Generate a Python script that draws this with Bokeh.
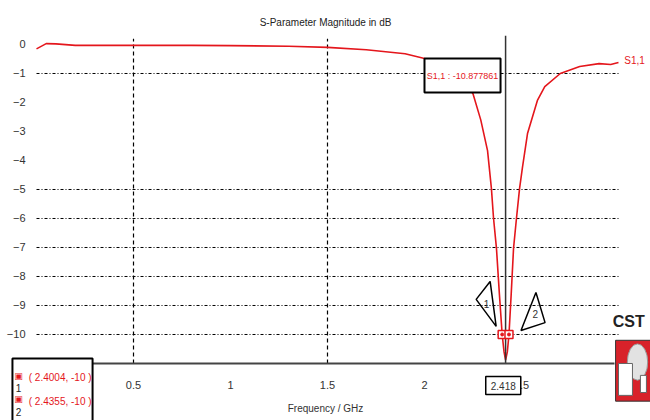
from bokeh.plotting import figure
from bokeh.models import FixedTicker, Label, Range1d, BoxAnnotation
from bokeh.embed import file_html
from bokeh.resources import INLINE

# ---- data ----
freq = [0.0, 0.05, 0.1, 0.2, 0.3, 0.5, 0.8, 1.0, 1.3, 1.5, 1.7, 1.9, 2.0, 2.1,
        2.2, 2.25, 2.29, 2.325, 2.345, 2.356, 2.371, 2.386, 2.4004, 2.41, 2.418,
        2.427, 2.4355, 2.447, 2.459, 2.474, 2.49, 2.505, 2.531, 2.582, 2.62,
        2.70, 2.8, 2.9, 2.96, 3.0]
s11 = [-0.15, 0.03, 0.02, -0.03, -0.03, -0.03, -0.03, -0.04, -0.06, -0.1,
       -0.18, -0.32, -0.48, -0.75, -1.2, -1.7, -2.6, -3.66, -4.97, -6.0, -7.03,
       -8.6, -10.0, -10.6, -10.88, -10.6, -10.0, -8.6, -7.03, -6.0, -4.97,
       -4.24, -3.07, -1.93, -1.45, -1.0, -0.76, -0.66, -0.69, -0.62]

x_ticks = [0.5, 1, 1.5, 2, 2.5]
y_ticks = [0, -1, -2, -3, -4, -5, -6, -7, -8, -9, -10]
h_grid = [-1, -5, -6, -7, -8, -9, -10]
v_grid = [0.5, 1.5]

marker_freq = [2.4004, 2.4355]
marker_val = [-10, -10]
min_freq = 2.418
min_val = -10.877861

FONT = "Liberation Sans"
RED = "#e4161c"
X_END = 3.01      # end of grid lines
Y_BOTTOM = -11    # level of the frequency axis
Y_TOP = 0.2

p = figure(width=650, height=420, x_range=Range1d(-0.1856, 3.165),
           y_range=Range1d(-12.966, 1.517),
           output_backend="svg", toolbar_location=None,
           min_border_left=0, min_border_right=0, min_border_top=0, min_border_bottom=0)
p.outline_line_color = None
p.background_fill_color = "white"
p.border_fill_color = "white"
p.xgrid.visible = False
p.ygrid.visible = False

# axes placed at fixed data locations
p.xaxis.fixed_location = Y_BOTTOM
p.xaxis.ticker = FixedTicker(ticks=x_ticks)
p.xaxis.bounds = (0, 2.98)
p.xaxis.axis_line_color = "#444444"
p.xaxis.axis_line_width = 2
p.xaxis.major_tick_line_color = None
p.xaxis.minor_tick_line_color = None
p.xaxis.major_label_standoff = 12
p.xaxis.major_label_text_font = FONT
p.xaxis.major_label_text_font_size = "11px"
p.xaxis.major_label_text_color = "#333333"
p.xaxis.axis_label = "Frequency / GHz"
p.xaxis.axis_label_text_font = FONT
p.xaxis.axis_label_text_font_style = "normal"
p.xaxis.axis_label_text_font_size = "10px"
p.xaxis.axis_label_text_color = "#333333"
p.xaxis.axis_label_standoff = 10

p.yaxis.fixed_location = 0
p.yaxis.ticker = FixedTicker(ticks=y_ticks)
p.yaxis.axis_line_color = None
p.yaxis.major_tick_line_color = None
p.yaxis.minor_tick_line_color = None
p.yaxis.major_label_standoff = 5
p.yaxis.major_label_text_font = FONT
p.yaxis.major_label_text_font_size = "11px"
p.yaxis.major_label_text_color = "#333333"

# grid lines (dashed), limited to the plot area
p.segment(x0=[0] * len(h_grid), x1=[X_END] * len(h_grid), y0=h_grid, y1=h_grid,
          line_color="black", line_width=1, line_dash="3 2 1 2")
p.segment(x0=v_grid, x1=v_grid, y0=[Y_BOTTOM] * len(v_grid), y1=[Y_TOP] * len(v_grid),
          line_color="black", line_width=1.2, line_dash="4 3")

# curve
p.line(freq, s11, line_color=RED, line_width=1.6)

# vertical marker line at min
p.segment(x0=[min_freq], x1=[min_freq], y0=[Y_BOTTOM], y1=[Y_TOP + 0.1],
          line_color="#333333", line_width=1.5)

# markers
p.scatter(marker_freq, marker_val, marker="square", size=8, line_color=RED,
          fill_color="white", line_width=1.5)
p.scatter(marker_freq, marker_val, marker="circle", size=3, line_color=RED,
          fill_color=RED)

# callout triangles relative to markers
tri1_dx = [-0.134, -0.062, -0.031]
tri1_dy = [1.21, 1.83, 0.28]
tri2_dx = [0.139, 0.186, 0.062]
tri2_dy = [1.45, 0.41, 0.14]
p.patch([marker_freq[0] + d for d in tri1_dx], [marker_val[0] + d for d in tri1_dy],
        fill_alpha=0.0, line_color="black", line_width=1.5)
p.patch([marker_freq[1] + d for d in tri2_dx], [marker_val[1] + d for d in tri2_dy],
        fill_alpha=0.0, line_color="black", line_width=1.5)
p.add_layout(Label(x=marker_freq[0] - 0.08, y=marker_val[0] + 1.05, text="1",
                   text_font=FONT, text_font_size="10px", text_color="#333333",
                   text_align="center", text_baseline="middle"))
p.add_layout(Label(x=marker_freq[1] + 0.135, y=marker_val[1] + 0.72, text="2",
                   text_font=FONT, text_font_size="10px", text_color="#333333",
                   text_align="center", text_baseline="middle"))

# annotation box with min value
p.add_layout(BoxAnnotation(left=2.0, right=2.392, top=-0.48, bottom=-1.655,
                           fill_color="white", fill_alpha=1.0,
                           line_color="black", line_alpha=1.0, line_width=2))
p.add_layout(Label(x=2.196, y=-1.07, text="S1,1 : %.6f" % min_val,
                   text_font=FONT, text_font_size="9px", text_color=RED,
                   text_align="center", text_baseline="middle"))

# title
p.add_layout(Label(x=1.49, y=0.76, text="S-Parameter Magnitude in dB",
                   text_font=FONT, text_font_size="10px", text_color="#222222",
                   text_align="center", text_baseline="middle"))

# curve name on the right
p.add_layout(Label(x=3.03, y=-0.55, text="S1,1", text_font=FONT,
                   text_font_size="10px", text_color=RED,
                   text_align="left", text_baseline="middle"))

# x value box for minimum
p.add_layout(Label(x=min_freq - 0.012, y=-11.76, text="%.3f" % min_freq, text_font=FONT,
                   text_font_size="10px", text_color="#333333",
                   text_align="center", text_baseline="middle",
                   background_fill_color="white", border_line_color="black",
                   border_line_width=1.5, padding=5))

# marker table at bottom-left
p.add_layout(BoxAnnotation(left=-0.124, right=0.289, top=-10.83, bottom=-13.2,
                           fill_color="white", fill_alpha=1.0,
                           line_color="black", line_alpha=1.0, line_width=2))
for i, yy in enumerate([-11.5, -12.32]):
    p.add_layout(Label(x=-0.093, y=yy + 0.08, text="\u25a3", text_font="DejaVu Sans",
                       text_font_size="9px", text_color=RED,
                       text_align="center", text_baseline="middle"))
    p.add_layout(Label(x=-0.093, y=yy - 0.36, text=str(i + 1), text_font=FONT,
                       text_font_size="10px", text_color="#222222",
                       text_align="center", text_baseline="middle"))
    p.add_layout(Label(x=-0.04, y=yy, text="( %.4f, %d )" % (marker_freq[i], marker_val[i]),
                       text_font=FONT, text_font_size="10px", text_color=RED,
                       text_align="left", text_baseline="middle"))

# CST logo (text + simple shapes)
p.add_layout(Label(x=2.97, y=-9.55, text="CST", text_font="Liberation Sans",
                   text_font_style="bold", text_font_size="16px", text_color="#222222",
                   text_align="left", text_baseline="middle"))
p.quad(left=[2.985], right=[3.2], top=[-10.2], bottom=[-12.3],
       fill_color="#d8222a", line_color="#333333", line_width=1)
p.ellipse(x=[3.098], y=[-10.95], width=0.105, height=1.25,
          fill_color="#e2e2e2", line_color="#999999", line_width=1)
p.quad(left=[3.0], right=[3.072], top=[-11.0], bottom=[-12.1],
       fill_color="white", line_color="#666666", line_width=1)
p.quad(left=[3.113], right=[3.144], top=[-11.41], bottom=[-12.0],
       fill_color="white", line_color="#666666", line_width=1)

open("out.html", "w").write(file_html(p, INLINE))
